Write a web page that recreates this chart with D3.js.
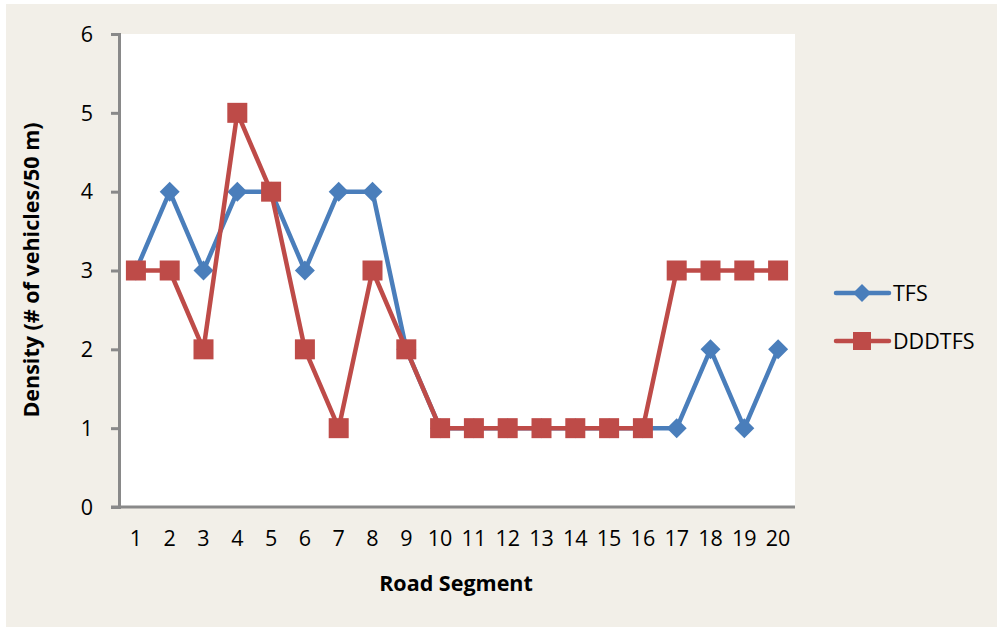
<!DOCTYPE html>
<html>
<head>
<meta charset="utf-8">
<script src="https://cdn.jsdelivr.net/npm/d3@7/dist/d3.min.js"></script>
<style>
  html, body { margin: 0; padding: 0; background: #ffffff; }
  svg { display: block; }
  text { font-family: "Open Sans", "Noto Sans", sans-serif; fill: #000; }
</style>
</head>
<body>
<svg id="chart" width="997" height="627"></svg>
<script>
// Road segments along the x axis
const segments = d3.range(1, 21);
// Density per segment, # of vehicles per 50 m
const tfsValues    = [3, 4, 3, 4, 4, 3, 4, 4, 2, 1, 1, 1, 1, 1, 1, 1, 1, 2, 1, 2];
const dddtfsValues = [3, 3, 2, 5, 4, 2, 1, 3, 2, 1, 1, 1, 1, 1, 1, 1, 3, 3, 3, 3];
const yTicks = [0, 1, 2, 3, 4, 5, 6];
const seriesNames = ["TFS", "DDDTFS"];
const seriesColors = ["#4a7ebb", "#be4b48"];

const svg = d3.select("#chart");
const fontSize = 21.5;

// chart background
svg.append("rect")
  .attr("x", 6).attr("y", 4)
  .attr("width", 991).attr("height", 623)
  .attr("fill", "#f2efe8");

const plot = { left: 119, right: 795, top: 34, bottom: 507 };

svg.append("rect")
  .attr("x", plot.left).attr("y", plot.top)
  .attr("width", plot.right - plot.left).attr("height", plot.bottom - plot.top)
  .attr("fill", "#ffffff");

const x = d3.scaleBand().domain(segments).range([plot.left, plot.right]);
const y = d3.scaleLinear().domain([0, 6]).range([plot.bottom, plot.top]);

// y axis
const yAxis = svg.append("g")
  .attr("transform", `translate(${plot.left},0)`)
  .call(d3.axisLeft(y).tickValues(yTicks).tickSize(8).tickPadding(18).tickFormat(d3.format("d")));
yAxis.select(".domain").attr("stroke", "#898989").attr("stroke-width", 3);
yAxis.selectAll(".tick line").attr("stroke", "#898989").attr("stroke-width", 3);
yAxis.selectAll(".tick text").attr("font-size", fontSize).attr("dy", "0.34em")
  .attr("font-family", "'Open Sans', sans-serif");

// x axis
const xAxis = svg.append("g")
  .attr("transform", `translate(0,${plot.bottom})`)
  .call(d3.axisBottom(x).tickSize(0).tickPadding(24));
xAxis.select(".domain").attr("stroke", "#898989").attr("stroke-width", 3)
  .attr("d", `M${plot.left - 8},0H${plot.right}`);
xAxis.selectAll(".tick text").attr("font-size", fontSize)
  .attr("font-family", "'Open Sans', sans-serif");

// axis titles
svg.append("text")
  .attr("x", 456).attr("y", 591)
  .attr("text-anchor", "middle")
  .attr("font-size", fontSize).attr("font-weight", "bold")
  .text("Road Segment");

svg.append("text")
  .attr("transform", "translate(39,270) rotate(-90)")
  .attr("text-anchor", "middle")
  .attr("font-size", fontSize).attr("font-weight", "bold")
  .text("Density (# of vehicles/50 m)");

const line = d3.line()
  .x((d, i) => x(segments[i]) + x.bandwidth() / 2)
  .y(d => y(d));

const diamond = s => `M0,${-s}L${s},0L0,${s}L${-s},0Z`;

function drawSeries(values, color, shape) {
  const g = svg.append("g");
  g.append("path")
    .datum(values)
    .attr("d", line)
    .attr("fill", "none")
    .attr("stroke", color)
    .attr("stroke-width", 4.5)
    .attr("stroke-linejoin", "round");
  const pts = g.selectAll("g.pt").data(values).enter().append("g")
    .attr("transform", (d, i) => `translate(${x(segments[i]) + x.bandwidth() / 2},${y(d)})`);
  if (shape === "diamond") {
    pts.append("path").attr("d", diamond(10)).attr("fill", color);
  } else {
    pts.append("rect").attr("x", -10).attr("y", -10).attr("width", 20).attr("height", 20)
      .attr("fill", color);
  }
}

drawSeries(tfsValues, seriesColors[0], "diamond");
drawSeries(dddtfsValues, seriesColors[1], "square");

// legend
const legend = svg.append("g");
const legendRows = [
  { name: seriesNames[0], color: seriesColors[0], shape: "diamond", y: 293 },
  { name: seriesNames[1], color: seriesColors[1], shape: "square", y: 341 }
];
legendRows.forEach(r => {
  const g = legend.append("g").attr("transform", `translate(0,${r.y})`);
  g.append("line").attr("x1", 836).attr("x2", 889).attr("y1", 0).attr("y2", 0)
    .attr("stroke", r.color).attr("stroke-width", 4.5).attr("stroke-linecap", "round");
  if (r.shape === "diamond") {
    g.append("path").attr("transform", "translate(862,0)").attr("d", diamond(9)).attr("fill", r.color);
  } else {
    g.append("rect").attr("x", 853).attr("y", -9).attr("width", 18).attr("height", 18).attr("fill", r.color);
  }
  g.append("text").attr("x", 893).attr("y", 0).attr("dy", "0.35em")
    .attr("font-size", fontSize).text(r.name);
});
</script>
</body>
</html>
